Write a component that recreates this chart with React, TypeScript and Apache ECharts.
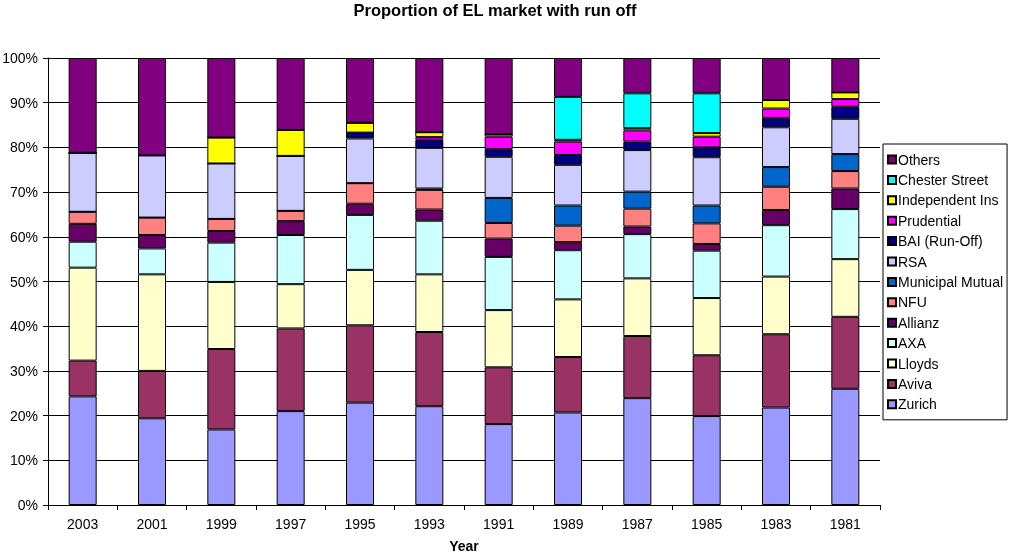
import React, { useEffect, useRef } from "react";
import * as echarts from "echarts";

const years = ["2003", "2001", "1999", "1997", "1995", "1993", "1991", "1989", "1987", "1985", "1983", "1981"];

const seriesNames = [
  "Zurich", "Aviva", "Lloyds", "AXA", "Allianz", "NFU", "Municipal Mutual",
  "RSA", "BAI (Run-Off)", "Prudential", "Independent Ins", "Chester Street", "Others",
];

const seriesColors = [
  "#9999FF", "#993366", "#FFFFCC", "#CCFFFF", "#660066", "#FF8080", "#0066CC",
  "#CCCCFF", "#000080", "#FF00FF", "#FFFF00", "#00FFFF", "#800080",
];

const zurich = [24.3, 19.4, 16.9, 21.0, 22.9, 22.1, 18.1, 20.7, 23.9, 19.9, 21.8, 26.0];
const aviva = [8.0, 10.6, 18.0, 18.5, 17.3, 16.6, 12.7, 12.4, 13.9, 13.6, 16.4, 16.1];
const lloyds = [20.8, 21.6, 15.0, 9.9, 12.4, 12.9, 12.8, 12.9, 12.9, 12.8, 12.9, 12.9];
const axa = [5.8, 5.8, 8.8, 11.0, 12.3, 12.0, 11.9, 11.0, 9.9, 10.6, 11.5, 11.2];
const allianz = [4.0, 3.0, 2.6, 3.1, 2.5, 2.5, 4.1, 1.8, 1.7, 1.5, 3.4, 4.6];
const nfu = [2.7, 3.9, 2.7, 2.3, 4.6, 4.4, 3.5, 3.7, 4.0, 4.6, 5.2, 3.9];
const municipalMutual = [0, 0, 0, 0, 0, 0.3, 5.6, 4.5, 3.8, 4.0, 4.4, 3.8];
const rsa = [13.2, 13.9, 12.4, 12.3, 10.0, 9.1, 9.2, 9.1, 9.3, 10.8, 8.9, 7.9];
const bai = [0, 0, 0, 0, 1.3, 1.8, 1.7, 2.2, 1.9, 2.2, 2.1, 2.7];
const prudential = [0, 0, 0, 0, 0, 0.6, 2.8, 3.0, 2.5, 2.4, 2.1, 1.7];
const independentIns = [0, 0, 5.8, 5.8, 2.2, 1.1, 0.5, 0.4, 0.5, 0.8, 1.9, 1.5];
const chesterStreet = [0, 0, 0, 0, 0, 0, 0, 9.6, 7.8, 8.9, 0, 0];
const others = [21.2, 21.8, 17.8, 16.1, 14.5, 16.6, 17.1, 8.7, 7.9, 7.9, 9.4, 7.7];

const seriesData = [
  zurich, aviva, lloyds, axa, allianz, nfu, municipalMutual,
  rsa, bai, prudential, independentIns, chesterStreet, others,
];

const yTicks = [0, 10, 20, 30, 40, 50, 60, 70, 80, 90, 100];

const FONT = "'Liberation Sans', Arial, sans-serif";

export default function App() {
  const ref = useRef<HTMLDivElement>(null);

  useEffect(() => {
    document.body.style.margin = "0";
    const chart = echarts.init(ref.current!, null, { renderer: "svg" });
    const series = seriesNames.map((name, i) => ({
      name,
      type: "bar",
      stack: "total",
      barWidth: 28,
      data: seriesData[i],
      itemStyle: { color: seriesColors[i], borderColor: "#000", borderWidth: 1 },
      emphasis: { disabled: true },
    }));
    chart.setOption({
      animation: false,
      textStyle: { fontFamily: FONT },
      graphic: [
        {
          type: "text",
          x: 495,
          y: 1,
          style: {
            text: "Proportion of EL market with run off",
            font: `bold 16.5px ${FONT}`,
            fill: "#000",
            textAlign: "center",
          },
        },
      ],
      grid: { left: 48, right: 130, top: 58, bottom: 50, outerBoundsMode: "none", containLabel: false },
      legend: {
        orient: "vertical",
        left: 883,
        top: 144,
        data: [...seriesNames].reverse(),
        icon: "rect",
        itemWidth: 8,
        itemHeight: 8,
        itemGap: 4.4,
        padding: [7.5, 4, 7.5, 4],
        borderColor: "#000",
        borderWidth: 1,
        textStyle: { fontSize: 14, color: "#000", fontFamily: FONT, lineHeight: 16, padding: [0, 0, 0, -3] },
        selectedMode: false,
      },
      xAxis: {
        type: "category",
        data: years,
        name: "Year",
        nameLocation: "middle",
        nameGap: 34,
        nameTextStyle: { fontSize: 14, fontWeight: "bold", color: "#000", fontFamily: FONT },
        axisLine: { lineStyle: { color: "#000", width: 1 } },
        axisTick: { show: true, alignWithLabel: false, length: 5, lineStyle: { color: "#000" } },
        axisLabel: { fontSize: 14, color: "#000", margin: 12, fontFamily: FONT },
        splitLine: { show: false },
      },
      yAxis: {
        type: "value",
        min: yTicks[0],
        max: yTicks[yTicks.length - 1],
        interval: 10,
        axisLine: { show: true, lineStyle: { color: "#000", width: 1 } },
        axisTick: { show: true, length: 5, lineStyle: { color: "#000" } },
        axisLabel: { fontSize: 14, color: "#000", margin: 10, formatter: "{value}%", fontFamily: FONT },
        splitLine: { show: true, lineStyle: { color: "#000", width: 1 } },
      },
      series,
    });
    return () => chart.dispose();
  }, []);

  return <div ref={ref} style={{ width: 1010, height: 555, position: "fixed", left: 0, top: 0 }} />;
}
